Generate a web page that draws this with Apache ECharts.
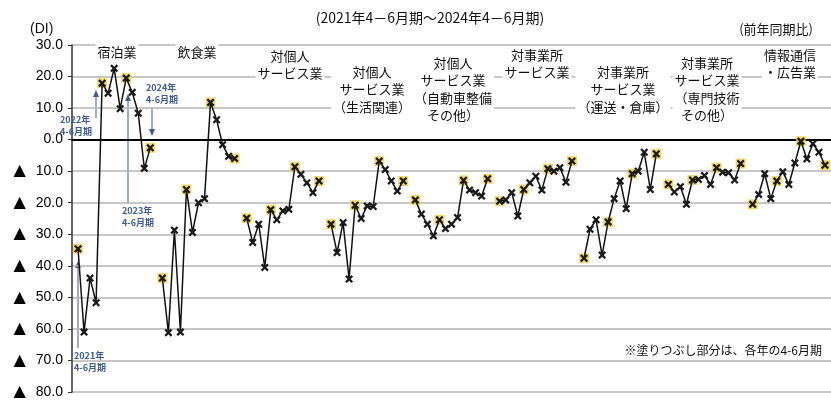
<!DOCTYPE html>
<html><head><meta charset="utf-8">
<script src="https://cdn.jsdelivr.net/npm/echarts@6/dist/echarts.min.js"></script>
<style>html,body{margin:0;padding:0;background:#fff}#c{width:831px;height:400px}</style>
</head><body><div id="c"></div>
<script>
// Quarterly DI, 2021 Apr-Jun .. 2024 Apr-Jun (13 quarters per industry)
const industries = ['宿泊業','飲食業','対個人\nサービス業','対個人\nサービス業\n（生活関連）','対個人\nサービス業\n（自動車整備\nその他）','対事業所\nサービス業','対事業所\nサービス業\n（運送・倉庫）','対事業所\nサービス業\n（専門技術\nその他）','情報通信\n・広告業'];
const shukuhaku   = [-34.6,-61.0,-43.9,-51.7,17.9,14.7,22.6,9.8,19.5,15.0,8.4,-9.1,-2.6];
const inshoku     = [-43.9,-61.2,-28.7,-61.0,-15.8,-29.4,-20.0,-18.7,11.8,6.3,-1.6,-5.3,-6.0];
const kojin       = [-24.9,-32.6,-26.8,-40.5,-22.2,-25.4,-22.6,-22.1,-8.6,-11.0,-13.7,-16.8,-13.1];
const kojinSeikatsu = [-26.8,-35.8,-26.3,-44.2,-20.8,-25.0,-21.0,-21.2,-6.8,-9.5,-13.1,-16.3,-13.1];
const kojinJidosha  = [-19.1,-23.6,-26.8,-30.5,-25.4,-28.2,-26.8,-24.7,-12.9,-16.0,-16.8,-17.9,-12.4];
const jigyosho    = [-19.5,-19.1,-16.8,-24.2,-15.8,-13.7,-11.6,-16.0,-9.2,-10.0,-8.9,-13.5,-6.8];
const jigyoUnso   = [-37.6,-28.4,-25.4,-36.6,-26.1,-18.7,-13.1,-21.9,-10.8,-10.0,-4.0,-15.8,-4.5];
const jigyoSenmon = [-14.2,-16.6,-14.9,-20.5,-12.8,-12.6,-11.4,-14.2,-8.9,-10.3,-10.5,-12.8,-7.6];
const johoKokoku  = [-20.5,-17.4,-10.8,-18.7,-13.1,-10.2,-14.2,-7.4,-0.5,-6.1,-1.3,-4.0,-8.1];
const groups = [shukuhaku,inshoku,kojin,kojinSeikatsu,kojinJidosha,jigyosho,jigyoUnso,jigyoSenmon,johoKokoku];
const yTicks = [30,20,10,0,-10,-20,-30,-40,-50,-60,-70,-80];

// build category sequence: leading blank, groups separated by one blank slot, trailing blank
const cats = [''], lineData = [null], hiData = [null];
groups.forEach((g, gi) => {
  g.forEach((v, j) => { cats.push(''); lineData.push(v); hiData.push(j % 4 === 0 ? v : null); });
  cats.push(''); lineData.push(null); hiData.push(null);
});

const chart = echarts.init(document.getElementById('c'));
const X = 'path://M0,2L2,0L5,3L8,0L10,2L7,5L10,8L8,10L5,7L2,10L0,8L3,5Z';
const blue = '#3d5a99';
const labelPos = [[117,43],[197,43],[290,47],[372,63],[453,54],[537,46],[623,63],[707,54],[790,46]];
const graphics = [];
industries.forEach((t,i)=>{
  graphics.push({type:'text', x:labelPos[i][0], y:labelPos[i][1], z:10,
    style:{text:t, fill:'#111', font:'13px "Noto Sans CJK JP"', align:'center', verticalAlign:'top', lineHeight:17.5, backgroundColor:'#fff', padding:[0,2]}});
});
graphics.push(
  {type:'text', x:430, y:11, style:{text:'(2021年4－6月期～2024年4－6月期)', fill:'#111', font:'14px "Noto Sans CJK JP"', align:'center'}},
  {type:'text', x:813, y:23, style:{text:'(前年同期比)', fill:'#111', font:'13px "Noto Sans CJK JP"', align:'right'}},
  {type:'text', x:30, y:22, style:{text:'(DI)', fill:'#111', font:'14px "Liberation Sans"'}},
  {type:'text', x:822, y:344, style:{text:'※塗りつぶし部分は、各年の4-6月期', fill:'#111', font:'12px "Noto Sans CJK JP"', align:'right'}},
  // annotations
  {type:'text', x:74, y:350, z:10, style:{text:'2021年\n4-6月期', fill:blue, font:'bold 9px "Noto Sans CJK JP"', lineHeight:12}},
  {type:'line', shape:{x1:78,y1:348,x2:78,y2:264}, style:{stroke:blue, lineWidth:1}},
  {type:'polygon', shape:{points:[[75,268],[81,268],[78,261]]}, style:{fill:blue}},
  {type:'text', x:60, y:114, z:10, style:{text:'2022年\n4-6月期', fill:blue, font:'bold 9px "Noto Sans CJK JP"', lineHeight:12}},
  {type:'line', shape:{x1:96,y1:118,x2:96,y2:93}, style:{stroke:blue, lineWidth:1}},
  {type:'polygon', shape:{points:[[93,97],[99,97],[96,90]]}, style:{fill:blue}},
  {type:'text', x:122, y:205, z:10, style:{text:'2023年\n4-6月期', fill:blue, font:'bold 9px "Noto Sans CJK JP"', lineHeight:12, backgroundColor:'#fff'}},
  {type:'line', shape:{x1:128,y1:203,x2:128,y2:97}, style:{stroke:blue, lineWidth:1}},
  {type:'polygon', shape:{points:[[125,101],[131,101],[128,94]]}, style:{fill:blue}},
  {type:'text', x:146, y:82, z:10, style:{text:'2024年\n4-6月期', fill:blue, font:'bold 9px "Noto Sans CJK JP"', lineHeight:12, backgroundColor:'#fff'}},
  {type:'line', shape:{x1:152,y1:108,x2:152,y2:132}, style:{stroke:blue, lineWidth:1}},
  {type:'polygon', shape:{points:[[149,129],[155,129],[152,136]]}, style:{fill:blue}}
);

chart.setOption({
  animation:false,
  grid:{left:72, right:0, top:45, bottom:6},
  xAxis:{type:'category', data:cats, boundaryGap:false,
    axisLine:{show:true, onZero:true, lineStyle:{color:'#000', width:2}},
    axisTick:{show:false}, axisLabel:{show:false}, splitLine:{show:false}},
  yAxis:{type:'value', min:-80, max:30, interval:10,
    axisLine:{show:true, lineStyle:{color:'#333', width:1.5}},
    axisTick:{show:true, length:4, lineStyle:{color:'#333'}},
    axisLabel:{margin:9, color:'#000', fontSize:14, fontFamily:'Liberation Sans',
      rich:{t:{fontSize:16, fontFamily:'DejaVu Sans', color:'#000', padding:[0,10,0,0]}},
      formatter:v => yTicks.includes(v) ? (v < 0 ? '{t|▲}' + (-v).toFixed(1) : v.toFixed(1)) : ''},
    splitLine:{show:true, lineStyle:{color:'#b5b5b5', width:1.5}}},
  series:[
    {type:'scatter', data:hiData, symbol:'rect', symbolSize:10, itemStyle:{color:'#efd043'}, z:2, silent:true},
    {type:'line', data:lineData, connectNulls:false, symbol:X, symbolSize:8, showAllSymbol:true,
      itemStyle:{color:'#1a1a1a'}, lineStyle:{color:'#111', width:1.5}, z:3}
  ],
  graphic:graphics
});
</script></body></html>
